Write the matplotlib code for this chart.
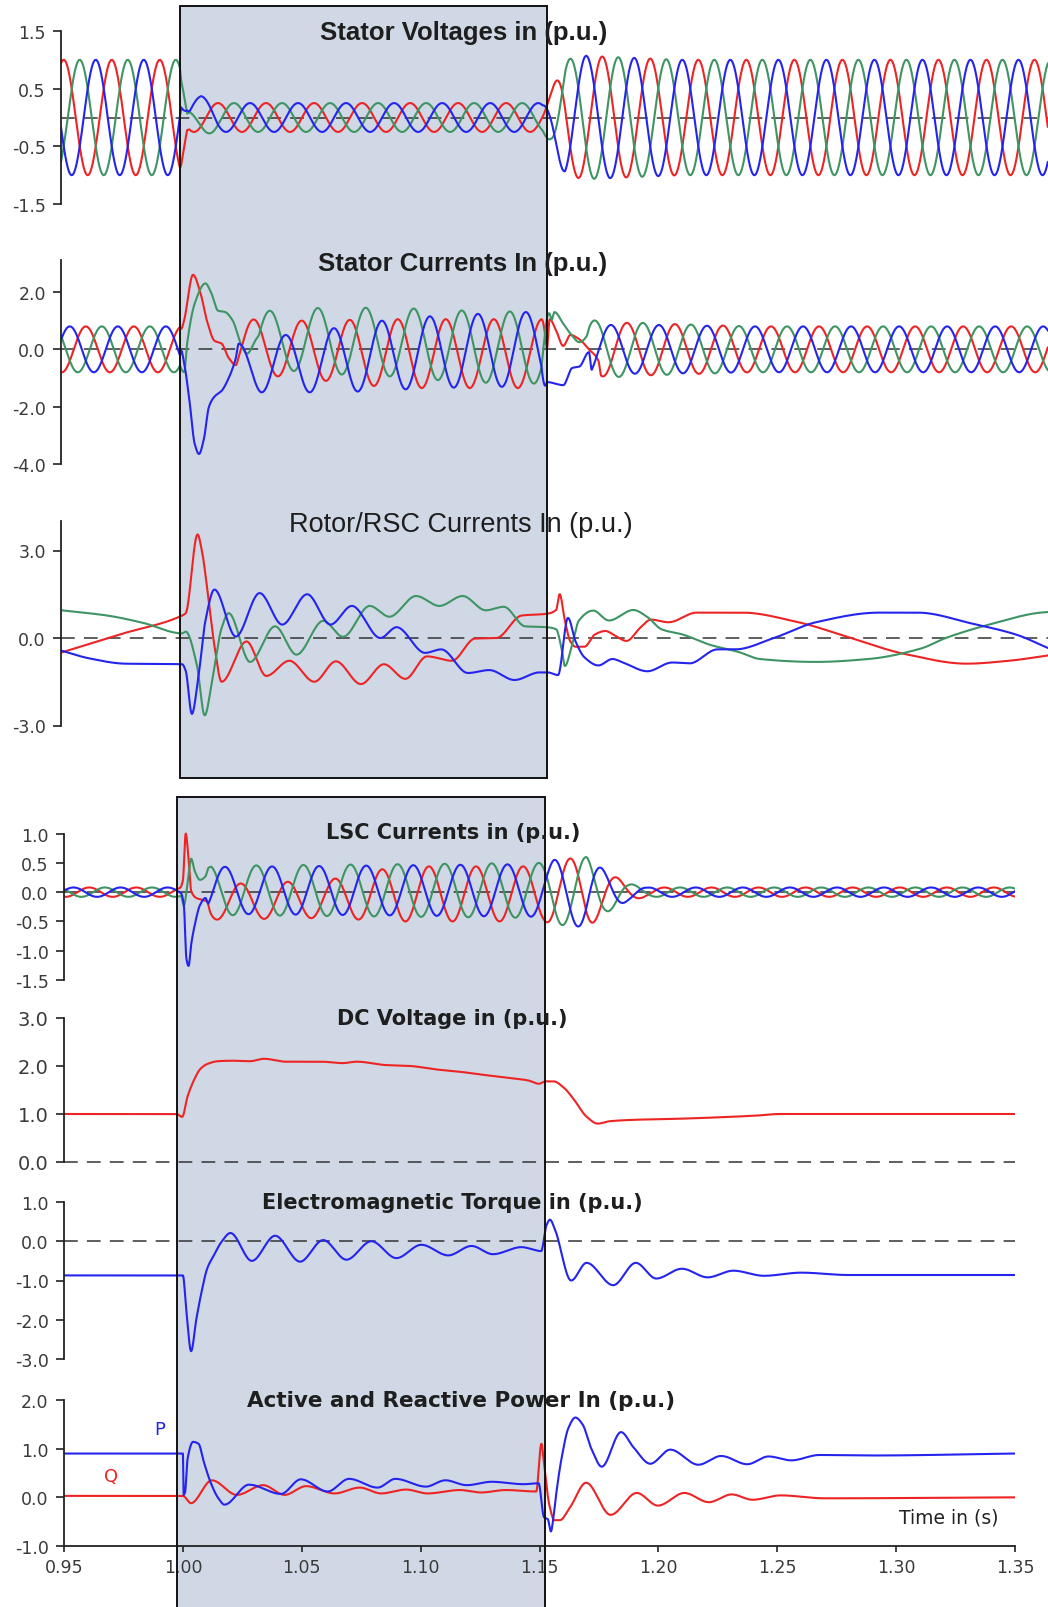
import numpy as np
import matplotlib
matplotlib.use('Agg')
import matplotlib.pyplot as plt
from matplotlib.patches import Rectangle

plt.rcParams['font.family'] = ['Liberation Sans', 'DejaVu Sans']

W, H = 1048, 1608
PX_PER_S = 2377.5
TOP_X0 = 61.1      # pixel of t = 0.95 in the three upper panels
BOT_X0 = 64.0      # pixel of t = 0.95 in the four lower panels

RED, GREEN, BLUE = '#ee2424', '#3f9463', '#2424ee'
SHADE = '#cfd8e4'

# ---------------- data ----------------
F_TOP = 49.5        # Hz, period
F_LSC = 50.5

# stator voltages: crest time of phase a (red), amplitude, dc offsets
vs_ref_t = [0.95, 1.0005, 1.004, 1.365]
vs_ref_peak = [0.9511, 0.9511, 1.016, 1.016]
vs_amp_t = [0.95, 1.0, 1.003, 1.1525, 1.156, 1.162, 1.17, 1.21, 1.365]
vs_amp = [1.0, 1.0, 0.25, 0.25, 0.45, 1.0, 1.07, 1.0, 1.0]
vs_off_t = [0.95, 1.0, 1.003, 1.009, 1.016, 1.365]
vs_off_red = [0, 0, 0, 0, 0, 0]
vs_off_green = [0, 0, -0.15, -0.05, 0, 0]
vs_off_blue = [0, 0, 0.12, 0.12, 0, 0]

# stator currents
is_ref_t = [0.95, 1.0, 1.004, 1.152, 1.156, 1.365]
is_ref_peak = [0.9604, 0.9604, 1.031, 1.031, 1.2284, 1.2284]
is_red_t = [0.95, 1.0, 1.027, 1.05, 1.09, 1.152, 1.175, 1.2, 1.24, 1.365]
is_red_off = [0, 0, 0.1, 0.0, -0.15, -0.15, 0, 0, 0, 0]
is_red_amp = [0.8, 0.8, 0.95, 1.0, 1.2, 1.2, 0.95, 0.9, 0.8, 0.8]
is_blue_t = [0.95, 1.0, 1.023, 1.034, 1.045, 1.065, 1.085, 1.105, 1.14, 1.152, 1.175, 1.2, 1.24, 1.365]
is_blue_off = [0, 0, -0.6, -0.5, -0.5, -0.38, -0.22, -0.1, 0.0, 0.0, 0, 0, 0, 0]
is_blue_amp = [0.8, 0.8, 0.75, 1.0, 1.0, 1.12, 1.22, 1.25, 1.3, 1.3, 0.85, 0.85, 0.8, 0.8]
is_green_t = [0.95, 1.0, 1.028, 1.06, 1.09, 1.12, 1.152, 1.175, 1.2, 1.24, 1.365]
is_green_off = [0, 0, 0.35, 0.3, 0.25, 0.1, 0.05, 0, 0, 0, 0]
is_green_amp = [0.8, 0.8, 0.95, 1.15, 1.2, 1.25, 1.25, 1.0, 0.9, 0.8, 0.8]
# transients at fault inception / clearing
is_red_tr_t = [1.0017, 1.0055, 1.0085, 1.0115, 1.0145, 1.0175, 1.0205, 1.0235]
is_red_tr_v = [1.0, 2.6, 2.0, 0.95, 0.3, 0.2, -0.3, -0.55]
is_blue_tr_t = [1.0017, 1.004, 1.0062, 1.008, 1.010, 1.0122, 1.0145, 1.0175, 1.0205, 1.0235]
is_blue_tr_v = [-0.45, -1.8, -3.3, -3.65, -3.15, -2.0, -1.65, -1.45, -1.0, -0.3]
is_green_tr_t = [1.003, 1.0062, 1.0107, 1.013, 1.016, 1.019, 1.0222, 1.026, 1.0282, 1.032]
is_green_tr_v = [0.2, 1.6, 2.3, 2.0, 1.35, 1.3, 1.0, 0.1, -0.15, 0.35]
is_red_tr2_t = [1.1555, 1.158, 1.1612, 1.1642, 1.168, 1.172, 1.176]
is_red_tr2_v = [1.05, 0.7, 0.12, 0.5, 0.35, 0.0, -0.4]
is_blue_tr2_t = [1.1555, 1.158, 1.1612, 1.165, 1.168, 1.172]
is_blue_tr2_v = [-1.15, -1.2, -1.25, -0.65, -0.6, -0.1]
is_green_tr2_t = [1.1575, 1.1612, 1.1642, 1.168, 1.171]
is_green_tr2_v = [1.3, 0.9, 0.55, 0.25, 0.45]

# rotor / RSC currents (read point by point)
rr_red_t = [0.95, 0.975, 1.0009, 1.0024, 1.0074, 1.0092, 1.0122, 1.0145, 1.0175, 1.028, 1.0363,
            1.046, 1.0565, 1.0656, 1.0761, 1.0858, 1.0948, 1.1039, 1.1144, 1.1241, 1.1331, 1.1437,
            1.1542, 1.1582, 1.1597, 1.1619, 1.1642, 1.1664, 1.1701, 1.1745, 1.1789, 1.1834, 1.1878,
            1.1937, 1.1981, 1.2055, 1.2173, 1.2365, 1.2601, 1.2822, 1.3044, 1.3309, 1.3487, 1.365]
rr_red = [-0.5, 0.13, 0.77, 0.85, 3.55, 3.0, 1.2, -0.27, -1.5, -0.12, -1.3,
          -0.78, -1.5, -0.8, -1.58, -0.9, -1.4, -0.63, -0.78, -0.02, 0.0, 0.77,
          0.83, 0.96, 1.5, 0.6, -0.12, -0.3, -0.3, 0.12, 0.24, 0.06, -0.1,
          0.36, 0.63, 0.54, 0.87, 0.87, 0.54, 0.0, -0.54, -0.88, -0.78, -0.6]
rr_blue_t = [0.95, 0.9619, 0.9769, 1.0009, 1.0024, 1.005, 1.0077, 1.0107, 1.0145, 1.0235, 1.0335,
             1.043, 1.0535, 1.0633, 1.0723, 1.0843, 1.0911, 1.1031, 1.1099, 1.1211, 1.1301, 1.1407,
             1.1512, 1.1547, 1.159, 1.1632, 1.1664, 1.1701, 1.176, 1.1819, 1.1863, 1.1966, 1.207,
             1.2143, 1.2261, 1.2335, 1.2498, 1.2675, 1.294, 1.3102, 1.3339, 1.3516, 1.365]
rr_blue = [-0.43, -0.7, -0.88, -0.9, -1.12, -2.6, -1.37, 0.59, 1.66, 0.05, 1.54,
           0.46, 1.5, 0.46, 1.1, 0.0, 0.37, -0.51, -0.39, -1.2, -1.1, -1.44,
           -1.18, -1.18, -1.27, 0.69, -0.12, -0.66, -0.94, -0.72, -0.84, -1.14, -0.84,
           -0.87, -0.39, -0.39, 0.0, 0.54, 0.87, 0.87, 0.48, 0.12, -0.34]
rr_green_t = [0.95, 0.9694, 0.9844, 1.0009, 1.0024, 1.007, 1.0104, 1.0137, 1.0175, 1.0205, 1.0295,
              1.04, 1.049, 1.0603, 1.0686, 1.0798, 1.0881, 1.0993, 1.1091, 1.1189, 1.1286, 1.1362,
              1.1452, 1.1542, 1.1582, 1.1605, 1.1619, 1.1649, 1.1678, 1.1738, 1.1804, 1.1907, 1.1966,
              1.2025, 1.2114, 1.2232, 1.235, 1.2439, 1.2675, 1.2896, 1.3117, 1.3221, 1.3412, 1.3619, 1.365]
rr_green = [0.95, 0.77, 0.52, 0.16, 0.22, -0.88, -2.65, -1.37, 0.34, 0.85, -0.82,
            0.4, -0.57, 0.59, 0.04, 1.1, 0.73, 1.44, 1.1, 1.44, 0.95, 1.07,
            0.4, 0.37, 0.3, -0.36, -0.96, -0.24, 0.6, 0.94, 0.6, 0.96, 0.72,
            0.3, 0.12, -0.24, -0.48, -0.72, -0.82, -0.72, -0.36, 0.0, 0.48, 0.87, 0.89]

# LSC currents
lsc_ref_t = [0.95, 0.999, 1.008, 1.35]
lsc_ref_peak = [0.9606, 0.9606, 1.0243, 1.0243]
lsc_red_t = [0.95, 0.999, 1.012, 1.06, 1.09, 1.152, 1.156, 1.17, 1.178, 1.187, 1.195, 1.35]
lsc_red_off = [0, 0, -0.17, -0.12, -0.03, -0.03, 0, 0, 0, 0, 0, 0]
lsc_red_amp = [0.08, 0.08, 0.3, 0.32, 0.47, 0.47, 0.55, 0.6, 0.35, 0.15, 0.08, 0.08]
lsc_bg_t = [0.95, 0.999, 1.012, 1.152, 1.156, 1.17, 1.178, 1.187, 1.195, 1.35]
lsc_blue_off = [0, 0, 0.03, 0.03, 0, 0, 0, 0, 0, 0]
lsc_blue_amp = [0.08, 0.08, 0.4, 0.45, 0.55, 0.6, 0.35, 0.15, 0.08, 0.08]
lsc_green_off = [0, 0, 0.03, 0.03, 0, 0, 0, 0, 0, 0]
lsc_green_amp = [0.08, 0.08, 0.42, 0.47, 0.55, 0.6, 0.35, 0.15, 0.08, 0.08]
lsc_red_tr_t = [1.0, 1.0012, 1.0024, 1.0035, 1.0057, 1.008, 1.0102]
lsc_red_tr_v = [0.2, 1.0, 0.57, 0.02, -0.1, -0.13, -0.16]
lsc_blue_tr_t = [1.0004, 1.0015, 1.0024, 1.0035, 1.005, 1.0072, 1.0095]
lsc_blue_tr_v = [-0.22, -1.14, -1.26, -0.89, -0.56, -0.22, -0.1]
lsc_green_tr_t = [1.0004, 1.002, 1.0035, 1.005, 1.0072, 1.0095]
lsc_green_tr_v = [-0.22, 0.15, 0.57, 0.36, 0.21, 0.27]

# DC link voltage
dc_t = [0.95, 0.9974, 0.9997, 1.002, 1.005, 1.0072, 1.0102, 1.0147, 1.0207, 1.0282, 1.0342, 1.0432,
        1.0582, 1.0672, 1.0732, 1.0852, 1.0957, 1.1062, 1.1182, 1.1257, 1.1362, 1.1452, 1.1497,
        1.1527, 1.1559, 1.1602, 1.1645, 1.1697, 1.1745, 1.1796, 1.1904, 1.2077, 1.225, 1.2422,
        1.2508, 1.35]
dc_v = [1.0, 1.0, 0.94, 1.37, 1.74, 1.93, 2.04, 2.1, 2.11, 2.1, 2.15, 2.09,
        2.09, 2.06, 2.09, 2.02, 2.0, 1.93, 1.87, 1.82, 1.76, 1.7, 1.63,
        1.68, 1.68, 1.55, 1.3, 0.95, 0.8, 0.85, 0.88, 0.9, 0.93, 0.97,
        1.0, 1.0]

# electromagnetic torque
tq_t = [0.95, 1.0, 1.0015, 1.00345, 1.0057, 1.008, 1.0102, 1.0132, 1.0162, 1.02, 1.029, 1.0388,
        1.0493, 1.059, 1.0688, 1.0793, 1.0898, 1.1003, 1.1116, 1.1214, 1.1304, 1.1424, 1.1507,
        1.1529, 1.1544, 1.1565, 1.1633, 1.1698, 1.181, 1.1905, 1.1991, 1.2099, 1.2207, 1.2315,
        1.2444, 1.26, 1.28, 1.35]
tq_v = [-0.87, -0.87, -1.8, -2.8, -1.97, -1.25, -0.7, -0.34, -0.02, 0.21, -0.5, 0.14,
        -0.52, 0.03, -0.47, 0.0, -0.43, -0.09, -0.36, -0.12, -0.33, -0.15, -0.25,
        0.4, 0.55, 0.3, -1.0, -0.55, -1.12, -0.55, -0.95, -0.7, -0.92, -0.75,
        -0.88, -0.8, -0.86, -0.86]

# active (P) and reactive (Q) power
p_t = [0.95, 1.0, 1.0003, 1.0009, 1.002, 1.0043, 1.0066, 1.0088, 1.0118, 1.0148, 1.0175, 1.0278,
       1.0413, 1.0496, 1.0609, 1.0699, 1.0819, 1.0894, 1.1022, 1.1104, 1.1194, 1.1299, 1.1434,
       1.1496, 1.1519, 1.1535, 1.1548, 1.1559, 1.157, 1.1592, 1.1622, 1.1651, 1.1681, 1.1718,
       1.1762, 1.1843, 1.1895, 1.1966, 1.205, 1.2168, 1.2264, 1.2374, 1.2463, 1.2559, 1.2677,
       1.29, 1.35]
p_v = [0.9, 0.9, 0.05, 0.1, 0.8, 1.14, 1.1, 0.73, 0.29, -0.01, -0.15, 0.26,
       0.07, 0.37, 0.12, 0.38, 0.2, 0.38, 0.22, 0.35, 0.25, 0.32, 0.27,
       0.29, -0.41, -0.45, -0.7, -0.4, 0.06, 0.78, 1.43, 1.64, 1.5, 1.0,
       0.63, 1.34, 1.03, 0.69, 0.98, 0.67, 0.85, 0.68, 0.84, 0.76, 0.87,
       0.86, 0.9]
q_t = [0.95, 1.0, 1.0034, 1.0122, 1.0227, 1.0338, 1.0428, 1.0518, 1.0638, 1.0744, 1.0834, 1.0939,
       1.1029, 1.1164, 1.1254, 1.1359, 1.1486, 1.1508, 1.1519, 1.1541, 1.1563, 1.1585, 1.1629,
       1.1696, 1.1799, 1.1909, 1.1998, 1.2109, 1.2212, 1.2308, 1.2396, 1.2514, 1.27, 1.35]
q_v = [0.03, 0.03, -0.12, 0.35, 0.05, 0.25, 0.05, 0.23, 0.08, 0.2, 0.08, 0.16,
       0.08, 0.15, 0.1, 0.15, 0.12, 1.1, 0.7, -0.15, -0.47, -0.47, -0.2,
       0.3, -0.36, 0.09, -0.17, 0.09, -0.1, 0.06, -0.05, 0.04, -0.02, 0.0]

x_ticks = [0.95, 1.00, 1.05, 1.10, 1.15, 1.20, 1.25, 1.30, 1.35]


# ---------------- helpers ----------------
def pchip(xk, yk, x):
    xk = np.asarray(xk, float)
    yk = np.asarray(yk, float)
    h = np.diff(xk)
    d = np.diff(yk) / h
    m = np.zeros_like(yk)
    for i in range(1, len(xk) - 1):
        if d[i - 1] * d[i] > 0:
            w1 = 2 * h[i] + h[i - 1]
            w2 = h[i] + 2 * h[i - 1]
            m[i] = (w1 + w2) / (w1 / d[i - 1] + w2 / d[i])
    m[0], m[-1] = d[0], d[-1]
    i = np.clip(np.searchsorted(xk, x) - 1, 0, len(h) - 1)
    s = (x - xk[i]) / h[i]
    return ((2 * s**3 - 3 * s**2 + 1) * yk[i] + (s**3 - 2 * s**2 + s) * h[i] * m[i]
            + (-2 * s**3 + 3 * s**2) * yk[i + 1] + (s**3 - s**2) * h[i] * m[i + 1])


def wave(t, f, ref_t, ref_peak, k, off_t, off_v, amp_t, amp_v):
    phi = np.unwrap(-2 * np.pi * f * np.asarray(ref_peak))
    ang = 2 * np.pi * f * t + np.interp(t, ref_t, phi) - 2 * np.pi * k / 3
    return np.interp(t, off_t, off_v) + np.interp(t, amp_t, amp_v) * np.cos(ang)


def patch(t, y, tr_t, tr_v, edge=0.0012):
    t0, t1 = tr_t[0] - edge, tr_t[-1] + edge
    kt = [t0 - 0.0004, t0] + list(tr_t) + [t1, t1 + 0.0004]
    kv = [np.interp(t0 - 0.0004, t, y), np.interp(t0, t, y)] + list(tr_v) + \
         [np.interp(t1, t, y), np.interp(t1 + 0.0004, t, y)]
    m = (t >= t0) & (t <= t1)
    y = y.copy()
    y[m] = pchip(kt, kv, t[m])
    return y


fig = plt.figure(figsize=(W / 100, H / 100), dpi=100)
TICKFONT = 'DejaVu Sans'


def panel(x0, t0, t1, yhi, pxhi, ylo, pxlo, band, ticks, labels, spine, lsize=12.5):
    ppu = (pxlo - pxhi) / (yhi - ylo)
    top, bot = band
    left = x0 + (t0 - 0.95) * PX_PER_S
    right = x0 + (t1 - 0.95) * PX_PER_S
    ax = fig.add_axes([left / W, 1 - bot / H, (right - left) / W, (bot - top) / H])
    ax.set_xlim(t0, t1)
    ax.set_ylim(ylo - (bot - pxlo) / ppu, yhi + (pxhi - top) / ppu)
    ax.set_facecolor('none')
    for s in ('top', 'right', 'bottom'):
        ax.spines[s].set_visible(False)
    ax.spines['left'].set_linewidth(1.3)
    ax.spines['left'].set_color('#222222')
    ax.spines['left'].set_bounds(*spine)
    ax.set_yticks(ticks)
    ax.set_yticklabels(labels, family=TICKFONT)
    ax.tick_params(axis='y', direction='out', length=6, width=1.2, pad=5,
                   labelsize=lsize, labelcolor='#3a3a3a', color='#222222')
    ax.set_xticks([])
    ax.axhline(0, color='#333333', lw=1.1, dashes=(9, 6), zorder=1.5)
    return ax


def title(x, y, s, size, weight='bold', family=None):
    fig.text(x / W, 1 - y / H, s, ha='center', va='center', fontsize=size,
             fontweight=weight, color='#1e1e1e', family=family, zorder=6)


# shaded fault windows
def shade(x0, x1, y0, y1):
    fig.patches.append(Rectangle((x0 / W, 1 - y1 / H), (x1 - x0) / W, (y1 - y0) / H,
                                 transform=fig.transFigure, facecolor=SHADE,
                                 edgecolor='none', zorder=-1))
    fig.patches.append(Rectangle((x0 / W, 1 - y1 / H), (x1 - x0) / W, (y1 - y0) / H,
                                 transform=fig.transFigure, facecolor='none',
                                 edgecolor='#111111', lw=1.4, zorder=5))


shade(TOP_X0 + 0.05 * PX_PER_S, TOP_X0 + 0.2045 * PX_PER_S, 7, 779)
shade(BOT_X0 + 0.0475 * PX_PER_S, BOT_X0 + 0.2023 * PX_PER_S, 798, 1640)

tt = np.linspace(0.95, 1.365, 9000)
tb = np.linspace(0.95, 1.35, 9000)
LW = 1.5

# 1 stator voltages
ax = panel(TOP_X0, 0.95, 1.365, 1.5, 32, -1.5, 205, (10, 232),
           [1.5, 0.5, -0.5, -1.5], ['1.5', '0.5', '-0.5', '-1.5'], (-1.5, 1.5))
for k, off, c in ((0, vs_off_red, RED), (1, vs_off_green, GREEN), (2, vs_off_blue, BLUE)):
    ax.plot(tt, wave(tt, F_TOP, vs_ref_t, vs_ref_peak, k, vs_off_t, off, vs_amp_t, vs_amp),
            color=c, lw=LW)
title(464, 33, 'Stator Voltages in (p.u.)', 18.5)

# 2 stator currents
ax = panel(TOP_X0, 0.95, 1.365, 2.0, 293, -4.0, 465, (240, 482),
           [2.0, 0.0, -2.0, -4.0], ['2.0', '0.0', '-2.0', '-4.0'], (-4.0, 3.1))
y_r = wave(tt, F_TOP, is_ref_t, is_ref_peak, 0, is_red_t, is_red_off, is_red_t, is_red_amp)
y_g = wave(tt, F_TOP, is_ref_t, is_ref_peak, 1, is_green_t, is_green_off, is_green_t, is_green_amp)
y_b = wave(tt, F_TOP, is_ref_t, is_ref_peak, 2, is_blue_t, is_blue_off, is_blue_t, is_blue_amp)
y_r = patch(tt, patch(tt, y_r, is_red_tr_t, is_red_tr_v), is_red_tr2_t, is_red_tr2_v)
y_g = patch(tt, patch(tt, y_g, is_green_tr_t, is_green_tr_v), is_green_tr2_t, is_green_tr2_v)
y_b = patch(tt, patch(tt, y_b, is_blue_tr_t, is_blue_tr_v), is_blue_tr2_t, is_blue_tr2_v)
ax.plot(tt, y_r, color=RED, lw=LW)
ax.plot(tt, y_g, color=GREEN, lw=LW)
ax.plot(tt, y_b, color=BLUE, lw=LW)
title(463, 264, 'Stator Currents In (p.u.)', 18.5)

# 3 rotor currents
ax = panel(TOP_X0, 0.95, 1.365, 3.0, 551.5, -3.0, 726.5, (500, 760),
           [3.0, 0.0, -3.0], ['3.0', '0.0', '-3.0'], (-3.0, 4.0))
ax.plot(tt, pchip(rr_red_t, rr_red, tt), color=RED, lw=LW)
ax.plot(tt, pchip(rr_green_t, rr_green, tt), color=GREEN, lw=LW)
ax.plot(tt, pchip(rr_blue_t, rr_blue, tt), color=BLUE, lw=LW)
title(461, 525, 'Rotor/RSC Currents In (p.u.)', 19.5, weight='normal')

# 4 LSC currents
ax = panel(BOT_X0, 0.95, 1.35, 1.0, 834.6, -1.5, 981, (810, 995),
           [1.0, 0.5, 0.0, -0.5, -1.0, -1.5], ['1.0', '0.5', '0.0', '-0.5', '-1.0', '-1.5'],
           (-1.5, 1.0))
y_r = wave(tb, F_LSC, lsc_ref_t, lsc_ref_peak, 0, lsc_red_t, lsc_red_off, lsc_red_t, lsc_red_amp)
y_g = wave(tb, F_LSC, lsc_ref_t, lsc_ref_peak, 1, lsc_bg_t, lsc_green_off, lsc_bg_t, lsc_green_amp)
y_b = wave(tb, F_LSC, lsc_ref_t, lsc_ref_peak, 2, lsc_bg_t, lsc_blue_off, lsc_bg_t, lsc_blue_amp)
ax.plot(tb, patch(tb, y_r, lsc_red_tr_t, lsc_red_tr_v), color=RED, lw=LW)
ax.plot(tb, patch(tb, y_g, lsc_green_tr_t, lsc_green_tr_v), color=GREEN, lw=LW)
ax.plot(tb, patch(tb, y_b, lsc_blue_tr_t, lsc_blue_tr_v), color=BLUE, lw=LW)
title(453, 833, 'LSC Currents in (p.u.)', 15, family='DejaVu Sans')

# 5 DC voltage
ax = panel(BOT_X0, 0.95, 1.35, 3.0, 1019, 0.0, 1163, (1000, 1175),
           [3.0, 2.0, 1.0, 0.0], ['3.0', '2.0', '1.0', '0.0'], (0.0, 3.0), lsize=14)
ax.plot(tb, pchip(dc_t, dc_v, tb), color=RED, lw=LW)
title(452, 1019, 'DC Voltage in (p.u.)', 15, family='DejaVu Sans')

# 6 torque
ax = panel(BOT_X0, 0.95, 1.35, 1.0, 1203, -3.0, 1360, (1185, 1372),
           [1.0, 0.0, -1.0, -2.0, -3.0], ['1.0', '0.0', '-1.0', '-2.0', '-3.0'], (-3.0, 1.0))
ax.plot(tb, pchip(tq_t, tq_v, tb), color=BLUE, lw=LW)
title(452, 1203, 'Electromagnetic Torque in (p.u.)', 15, family='DejaVu Sans')

# 7 power
ax = panel(BOT_X0, 0.95, 1.35, 2.0, 1401, -1.0, 1547, (1385, 1560),
           [2.0, 1.0, 0.0, -1.0], ['2.0', '1.0', '0.0', '-1.0'], (-1.0, 2.0))
ax.lines[-1].remove()
ax.plot(tb, pchip(q_t, q_v, tb), color=RED, lw=LW)
ax.plot(tb, pchip(p_t, p_v, tb), color=BLUE, lw=LW)
ax.spines['bottom'].set_visible(True)
ax.spines['bottom'].set_position(('data', -1.0))
ax.spines['bottom'].set_bounds(0.95, 1.35)
ax.spines['bottom'].set_linewidth(1.3)
ax.spines['bottom'].set_color('#222222')
ax.set_xticks(x_ticks)
ax.set_xticklabels(['%.2f' % v for v in x_ticks], family=TICKFONT)
ax.tick_params(axis='x', direction='out', length=4.6, width=1.2, pad=4,
               labelsize=12.5, labelcolor='#3a3a3a', color='#222222')
title(461, 1401, 'Active and Reactive Power In (p.u.)', 15.5, family='DejaVu Sans')
fig.text(949 / W, 1 - 1518 / H, 'Time in (s)', ha='center', va='center', fontsize=13.5,
         color='#222222', family='DejaVu Sans')
fig.text(160 / W, 1 - 1430 / H, 'P', ha='center', va='center', fontsize=13, color=BLUE,
         family='DejaVu Sans')
fig.text(111 / W, 1 - 1477 / H, 'Q', ha='center', va='center', fontsize=13, color=RED,
         family='DejaVu Sans')

fig.savefig('out.png', dpi=100)
